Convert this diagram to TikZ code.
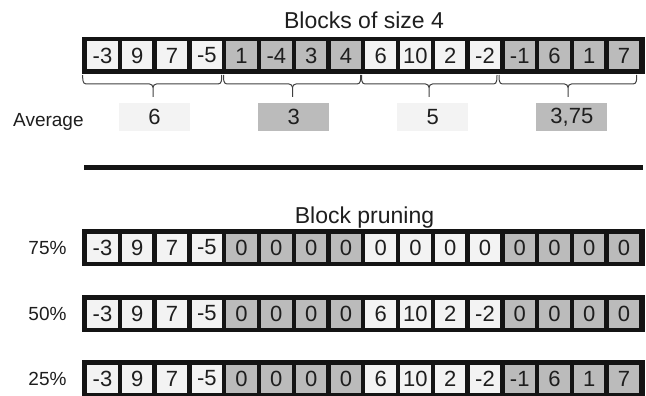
\documentclass[tikz,border=0pt]{standalone}
\usepackage{fontspec}
\setmainfont{Liberation Sans}
\definecolor{lite}{HTML}{F3F3F3}
\definecolor{dark}{HTML}{BBBBBB}
\definecolor{edge}{HTML}{141414}
\definecolor{ink}{HTML}{1E1E1E}
\tikzset{
  frame/.style={fill=edge, draw=none, inner sep=0pt, minimum width=563pt, minimum height=37pt},
  cell/.style={draw=none, inner sep=0pt, minimum width=30.4pt, minimum height=28pt, text=ink, font=\fontsize{22}{24}\selectfont},
  avgbox/.style={draw=none, inner sep=0pt, minimum width=71pt, minimum height=28pt, text=ink, font=\fontsize{22}{24}\selectfont},
  lbl/.style={inner sep=0pt, text=ink, font=\fontsize{19}{21}\selectfont},
  ttl/.style={inner sep=0pt, text=ink, font=\fontsize{23}{25}\selectfont},
  bracestyle/.style={draw=ink!85, line width=1pt},
}
\newcommand\cellrow[3]{% #1 prefix, #2 y, #3 values
  \foreach \v [count=\i] in {#3} {
    \pgfmathtruncatemacro\blk{floor((\i-1)/4)}
    \ifodd\blk\def\fc{dark}\else\def\fc{lite}\fi
    \node[cell, fill=\fc] (#1\i) at ({102.5+34.77*(\i-1)},#2) {\v};
  }
}
\begin{document}
\begin{tikzpicture}[x=1pt,y=-1pt]
\useasboundingbox (0,0) rectangle (646,396);
% title
\node[ttl, anchor=base] (title1) at (364,29) {Blocks of size 4};
% top array
\node[frame] (ftop) at (363.5,55.5) {};
\cellrow{t}{55.5}{-3,9,7,-5,1,-4,3,4,6,10,2,-2,-1,6,1,7}
% braces
\foreach \xa/\xb/\xc [count=\k] in {82.7/221.7/153, 223.5/360.7/292.5, 361.5/497/429, 499/636.7/568} {
  \coordinate (bl\k) at (\xa,75);
  \coordinate (br\k) at (\xb,75);
  \coordinate (bt\k) at (\xc,97);
  \draw[bracestyle] (bl\k) to[out=-90,in=180] (\xa+3.5,84) -- (\xc-3.5,84) to[out=0,in=90] (\xc,87.5) -- (bt\k);
  \draw[bracestyle] (\xc,87.5) to[out=90,in=180] (\xc+3.5,84) -- (\xb-3.5,84) to[out=0,in=-90] (br\k);
}
% averages
\node[lbl, anchor=base west] (avglbl) at (13,126) {Average};
\node[avgbox, fill=lite] (avg1) at (154.6,117) {6};
\node[avgbox, fill=dark] (avg2) at (293.7,117) {3};
\node[avgbox, fill=lite] (avg3) at (432.8,117) {5};
\node[avgbox, fill=dark] (avg4) at (571.9,117) {3,75};
% separator
\coordinate (sepl) at (84,167.7);
\coordinate (sepr) at (643,167.7);
\draw[edge, line width=4.5pt] (sepl) -- (sepr);
% block pruning
\node[ttl, anchor=base] (title2) at (364.5,223) {Block pruning};
\node[frame] (f75) at (363.5,247.5) {};
\cellrow{a}{247.5}{-3,9,7,-5,0,0,0,0,0,0,0,0,0,0,0,0}
\node[lbl, anchor=base east] (p75) at (66.7,254.3) {75\%};
\node[frame] (f50) at (363.5,313.5) {};
\cellrow{b}{313.5}{-3,9,7,-5,0,0,0,0,6,10,2,-2,0,0,0,0}
\node[lbl, anchor=base east] (p50) at (66.7,320.3) {50\%};
\node[frame] (f25) at (363.5,378.5) {};
\cellrow{c}{378.5}{-3,9,7,-5,0,0,0,0,6,10,2,-2,-1,6,1,7}
\node[lbl, anchor=base east] (p25) at (66.7,385.3) {25\%};
\end{tikzpicture}
\end{document}
